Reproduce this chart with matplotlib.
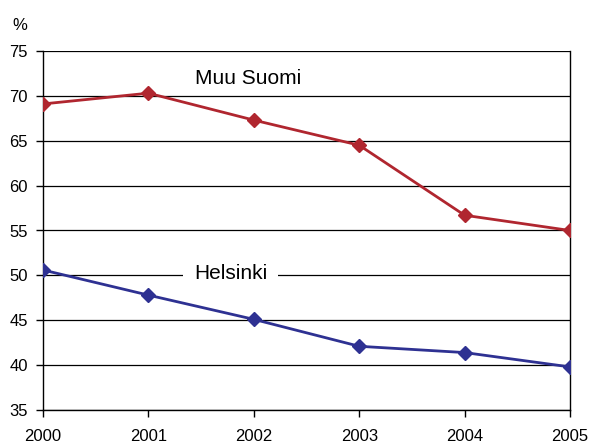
import matplotlib
matplotlib.use("Agg")
import matplotlib.pyplot as plt

plt.rcParams['font.family'] = ['Liberation Sans', 'DejaVu Sans']

years = [2000, 2001, 2002, 2003, 2004, 2005]
muu_suomi = [69.1, 70.3, 67.3, 64.5, 56.7, 55.0]
helsinki = [50.6, 47.8, 45.1, 42.1, 41.4, 39.8]
yticks = [35, 40, 45, 50, 55, 60, 65, 70, 75]

fig = plt.figure(figsize=(5.9, 4.44), dpi=100)
ax = fig.add_axes([43/590, 1-410/444, (570-43)/590, (410-51)/444])

for y in yticks:
    ax.axhline(y, color='black', lw=0.9, zorder=1)

ax.plot(years, muu_suomi, color='#B0262F', lw=2, marker='D', markersize=7.5, zorder=3)
ax.plot(years, helsinki, color='#2E3192', lw=2, marker='D', markersize=7.5, zorder=3)

ax.set_xlim(2000, 2005)
ax.set_ylim(35, 75)
ax.set_xticks(years)
ax.set_yticks(yticks)
ax.tick_params(axis='both', direction='out', length=5, width=1, labelsize=12, pad=6)
ax.tick_params(axis='x', pad=9)
for s in ax.spines.values():
    s.set_linewidth(1)
    s.set_color('black')
ax.spines['top'].set_visible(False)
for lab in ax.get_xticklabels() + ax.get_yticklabels():
    lab.set_clip_on(False)
    lab.set_zorder(5)

ax.text(2001.95, 71.9, 'Muu Suomi', fontsize=15, ha='center', va='center', zorder=4)
ax.text(2001.78, 50.2, 'Helsinki', fontsize=15, ha='center', va='center', zorder=2,
        bbox=dict(facecolor='white', edgecolor='none', pad=8))

fig.text(12/590, 1-25/444, '%', fontsize=12, ha='left', va='center')

fig.savefig('out.png', dpi=100)
